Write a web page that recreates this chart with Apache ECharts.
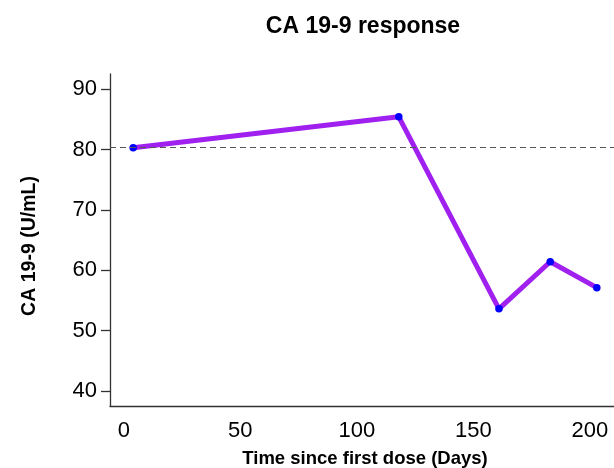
<!DOCTYPE html>
<html>
<head>
<meta charset="utf-8">
<script src="https://cdn.jsdelivr.net/npm/echarts@6/dist/echarts.min.js"></script>
<style>
html,body{margin:0;padding:0;background:#fff;}
#chart{width:614px;height:468px;}
</style>
</head>
<body>
<div id="chart"></div>
<script>
const days = [4, 118, 161, 183, 203];
const ca199 = [80.3, 85.4, 53.6, 61.4, 57.1];
const baseline = 80.3;
const xTicks = [0, 50, 100, 150, 200];
const yTicks = [40, 50, 60, 70, 80, 90];

const font = 'Liberation Sans, Arial, sans-serif';
const chart = echarts.init(document.getElementById('chart'));
chart.setOption({
  animation: false,
  backgroundColor: '#ffffff',
  title: {
    text: 'CA 19-9 response',
    left: 358, top: 10, textAlign: 'center',
    textStyle: {fontFamily: font, fontWeight: 'bold', fontSize: 23, color: '#000'}
  },
  grid: {left: 110, right: -6, top: 74, bottom: 62, outerBoundsMode: 'none', containLabel: false},
  xAxis: {
    type: 'value', min: -5.95, max: 212.95,
    name: 'Time since first dose (Days)', nameLocation: 'middle', nameGap: 43,
    nameTextStyle: {fontFamily: font, fontWeight: 'bold', fontSize: 18.5, color: '#000'},
    axisLine: {show: true, onZero: false, lineStyle: {color: '#333', width: 1.3}},
    axisTick: {show: false},
    splitLine: {show: false},
    axisLabel: {customValues: xTicks, fontFamily: font, fontSize: 22, color: '#000', margin: 14}
  },
  yAxis: {
    type: 'value', min: 37.5, max: 92.5,
    name: 'CA 19-9 (U/mL)', nameLocation: 'middle', nameGap: 70,
    nameTextStyle: {fontFamily: font, fontWeight: 'bold', fontSize: 19.5, color: '#000', padding: [0, 12, 0, 0]},
    axisLine: {show: true, onZero: false, lineStyle: {color: '#333', width: 1.3}},
    axisTick: {show: true, customValues: yTicks, length: 9, lineStyle: {color: '#333', width: 1.3}},
    splitLine: {show: false},
    axisLabel: {customValues: yTicks, fontFamily: font, fontSize: 22, color: '#000', margin: 13}
  },
  series: [{
    type: 'line',
    data: days.map((d, i) => [d, ca199[i]]),
    symbol: 'circle', symbolSize: 7.5,
    itemStyle: {color: '#0000FF'},
    lineStyle: {color: '#A020F0', width: 5},
    markLine: {
      silent: true, symbol: 'none', label: {show: false},
      lineStyle: {color: '#555', type: [6, 4], width: 1.1},
      data: [{yAxis: baseline}]
    }
  }]
});
</script>
</body>
</html>
